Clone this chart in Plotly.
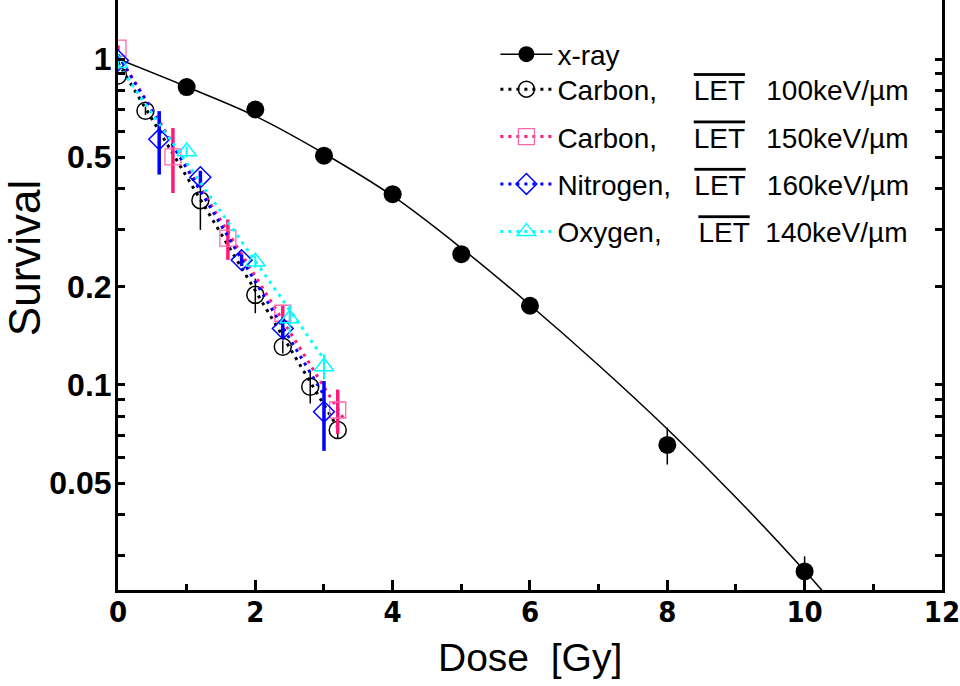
import math
import plotly.graph_objects as go

# ---- x-ray survival (measured points and fitted curve) ----
xray_dose = [1, 2, 3, 4, 5, 6, 8, 10]
xray_surv = [0.82, 0.70, 0.505, 0.385, 0.252, 0.175, 0.0655, 0.0268]
xray_err = [0.02, 0.02, 0.015, 0.012, 0.01, 0.008, 0.0085, 0.003]
xray_fit_dose = [0, 1, 2, 3, 4, 5, 6, 7, 8, 9, 10, 10.5]
xray_fit_surv = [1.0, 0.822, 0.668, 0.513, 0.380, 0.263, 0.176, 0.115, 0.0733, 0.0452, 0.0269, 0.0204]

# ---- Carbon, LET 100 keV/um ----
c100_dose = [0, 0.4, 1.2, 2.0, 2.4, 2.8, 3.2]
c100_surv = [0.89, 0.694, 0.369, 0.189, 0.131, 0.0988, 0.0728]
c100_err = [0.0, 0.02, 0.07, 0.023, 0.006, 0.011, 0.004]
c100_fit_dose = [0, 3.2]
c100_fit_surv = [0.975, 0.074]

# ---- Carbon, LET 150 keV/um ----
c150_dose = [0, 0.8, 1.6, 2.4, 3.2]
c150_surv = [1.08, 0.501, 0.282, 0.166, 0.0838]
c150_err = [0.02, 0.113, 0.04, 0.01, 0.013]
c150_fit_dose = [0, 3.3]
c150_fit_surv = [1.03, 0.078]

# ---- Nitrogen, LET 160 keV/um ----
n160_dose = [0, 0.6, 1.2, 1.8, 2.4, 3.0]
n160_surv = [0.99, 0.567, 0.434, 0.2416, 0.149, 0.0828]
n160_err = [0.02, 0.125, 0.02, 0.01, 0.01, 0.02]
n160_fit_dose = [0, 3.0]
n160_fit_surv = [1.03, 0.093]

# ---- Oxygen, LET 140 keV/um ----
o140_dose = [0, 1.0, 2.0, 2.5, 3.0]
o140_surv = [0.97, 0.52, 0.239, 0.160, 0.114]
o140_err = [0.02, 0.02, 0.01, 0.016, 0.01]
o140_fit_dose = [0, 3.0]
o140_fit_surv = [0.96, 0.12]

# axis ticks
x_major = [0, 2, 4, 6, 8, 10, 12]
y_labeled = [0.05, 0.1, 0.2, 0.5, 1]
y_minor = [0.03, 0.04, 0.06, 0.07, 0.08, 0.09, 0.3, 0.4, 0.6, 0.7, 0.8, 0.9]
y_decades = [0.1, 1]
y_range = [math.log10(0.0235), math.log10(1.517)]

BLACK = "#000000"
PINK = "#ff1a7a"
PINK_LIGHT = "#ff66aa"
BLUE = "#0000ff"
CYAN = "#00ffff"

NB = "\u00a0"
TH = "\u2009"
LET = '<span style="text-decoration:overline">LET</span>'

fig = go.Figure()

# x-ray fit curve and points
fig.add_trace(go.Scatter(x=xray_fit_dose, y=xray_fit_surv, mode="lines",
                         line=dict(color=BLACK, width=1.5, shape="spline", smoothing=1),
                         showlegend=False, hoverinfo="skip"))
fig.add_trace(go.Scatter(x=xray_dose, y=xray_surv, mode="markers",
                         marker=dict(symbol="circle", size=18, color=BLACK),
                         error_y=dict(type="data", array=xray_err, color=BLACK,
                                      thickness=1.5, width=0),
                         showlegend=False))

ions = [
    ("c100", c100_dose, c100_surv, c100_err, c100_fit_dose, c100_fit_surv,
     BLACK, BLACK, "circle-open", 17, 1.5,
     "Carbon," + NB * 4 + TH + LET + NB * 2 + TH + "100keV/µm"),
    ("c150", c150_dose, c150_surv, c150_err, c150_fit_dose, c150_fit_surv,
     PINK, PINK_LIGHT, "square-open", 16, 1.3,
     "Carbon," + NB * 4 + TH + LET + NB * 2 + TH + "150keV/µm"),
    ("n160", n160_dose, n160_surv, n160_err, n160_fit_dose, n160_fit_surv,
     BLUE, BLUE, "diamond-open", 16, 1.5,
     "Nitrogen," + NB * 3 + LET + NB * 2 + TH + "160keV/µm"),
    ("o140", o140_dose, o140_surv, o140_err, o140_fit_dose, o140_fit_surv,
     CYAN, CYAN, "triangle-up-open", 17, 1.5,
     "Oxygen," + NB * 4 + TH + LET + NB * 2 + "140keV/µm"),
]
err_width = {"c100": 1.5, "c150": 3.5, "n160": 3.5, "o140": 2}

for key, d, s, e, fd, fs, col, mcol, sym, size, mlw, _ in ions:
    fig.add_trace(go.Scatter(x=fd, y=fs, mode="lines",
                             line=dict(color=col, width=3, dash="3px,5px"),
                             showlegend=False, hoverinfo="skip"))
    fig.add_trace(go.Scatter(x=d, y=s, mode="markers",
                             marker=dict(symbol=sym, size=size, color=mcol,
                                         line=dict(color=mcol, width=mlw)),
                             error_y=dict(type="data", array=e, color=col,
                                          thickness=err_width[key], width=0),
                             showlegend=False))

# legend entries: x-ray in its own box, the four ion beams below it
fig.add_trace(go.Scatter(x=[None], y=[None], mode="lines+markers", name="x-ray",
                         line=dict(color=BLACK, width=1.5),
                         marker=dict(symbol="circle", size=18, color=BLACK),
                         legend="legend2"))
for i, (key, d, s, e, fd, fs, col, mcol, sym, size, mlw, label) in enumerate(ions):
    fig.add_trace(go.Scatter(x=[None], y=[None], mode="lines+markers", name=label,
                             line=dict(color=col, width=3, dash="3px,5px"),
                             marker=dict(symbol=sym, size=size, color=mcol,
                                         line=dict(color=mcol, width=mlw)),
                             legendgroup="g%d" % i, legend="legend"))

axis_font = dict(family="Liberation Sans, Arial, sans-serif", color=BLACK)
legend_font = dict(family="Liberation Sans, Arial, sans-serif", size=28, color=BLACK)

fig.update_layout(
    width=960, height=686,
    margin=dict(l=118, r=15, t=0, b=96),
    paper_bgcolor="white", plot_bgcolor="white",
    showlegend=True,
    legend=dict(x=0.458, y=0.8907, xanchor="left", yanchor="top",
                bgcolor="rgba(0,0,0,0)", borderwidth=0, font=legend_font,
                traceorder="grouped", tracegroupgap=8, itemwidth=52),
    legend2=dict(x=0.458, y=0.95, xanchor="left", yanchor="top",
                 bgcolor="rgba(0,0,0,0)", borderwidth=0, font=legend_font,
                 itemwidth=52),
    xaxis=dict(range=[0, 12.001], tickvals=x_major, ticks="inside", ticklen=10, tickwidth=2.5,
               tickcolor=BLACK, showline=True, linewidth=3, linecolor=BLACK, mirror=False,
               showgrid=False, zeroline=False, ticklabelstandoff=-6,
               ticklabeloverflow="allow",
               tickfont=dict(family="Liberation Sans Narrow, DejaVu Sans Condensed, sans-serif",
                             size=29, weight="bold", color=BLACK),
               minor=dict(dtick=1, ticks="inside", ticklen=6, tickwidth=2.5, tickcolor=BLACK)),
    yaxis=dict(type="log", range=y_range, tickvals=y_labeled, ticktext=["0.05", "0.1", "0.2", "0.5", "1"],
               ticks="inside", ticklen=7, tickwidth=2.5, tickcolor=BLACK,
               showline=True, linewidth=3, linecolor=BLACK, mirror="ticks",
               showgrid=False, zeroline=False, ticklabelstandoff=-3,
               tickfont=dict(size=32, weight="bold", **axis_font),
               minor=dict(tickvals=y_minor, ticks="inside", ticklen=7, tickwidth=2.5,
                          tickcolor=BLACK)),
    yaxis2=dict(type="log", range=y_range, overlaying="y", anchor="x", side="left",
                tickvals=y_decades, ticks="inside", ticklen=13, tickwidth=3, tickcolor=BLACK,
                showticklabels=False, showline=False, mirror="ticks", showgrid=False,
                zeroline=False),
    annotations=[
        dict(text="Survival", xref="paper", yref="paper", x=-0.1125, y=0.563,
             textangle=-90, showarrow=False, xanchor="center", yanchor="middle",
             font=dict(size=44, **axis_font)),
        dict(text="Dose" + NB * 2 + "[Gy]", xref="paper", yref="paper", x=0.4994, y=-0.1136,
             showarrow=False, xanchor="center", yanchor="middle",
             font=dict(size=39, **axis_font)),
    ],
)

fig.write_html("out.html")
